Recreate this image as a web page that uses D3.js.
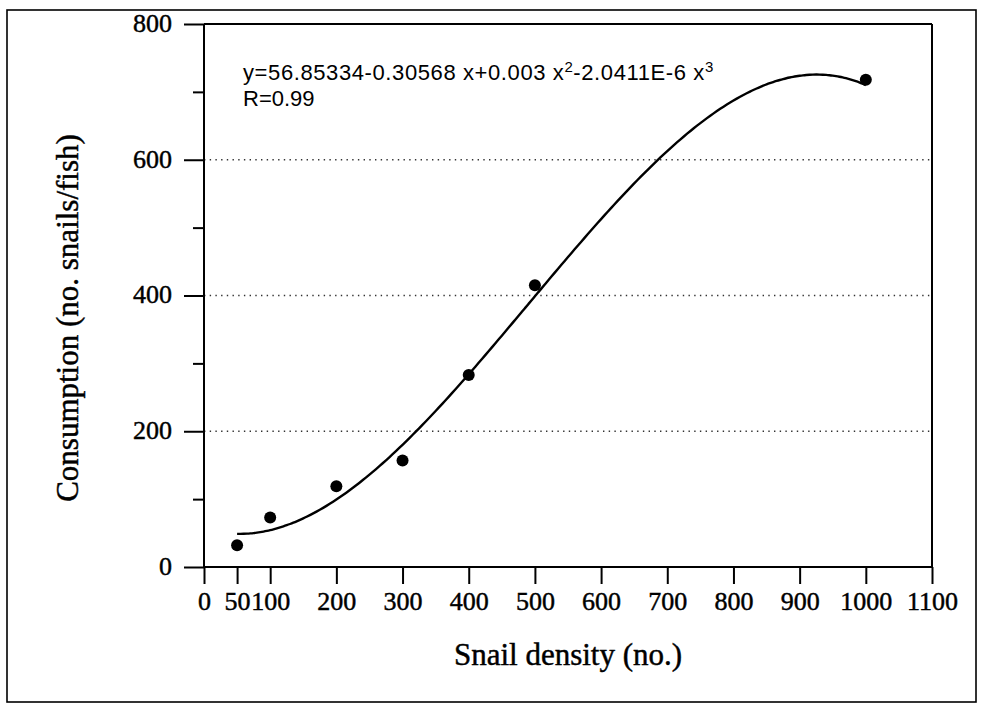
<!DOCTYPE html>
<html>
<head>
<meta charset="utf-8">
<script src="https://cdn.jsdelivr.net/npm/d3@7/dist/d3.min.js"></script>
<style>
  html, body { margin: 0; padding: 0; background: #fff; }
  svg { display: block; }
  .serif { font-family: "Liberation Serif", "Times New Roman", serif; fill: #000; stroke: #000; stroke-width: 0.45px; }
  .sans { font-family: "Liberation Sans", Arial, sans-serif; fill: #000; }
</style>
</head>
<body>
<svg id="chart" width="981" height="704"></svg>
<script>
// ---- data ----
const snailDensity = [50, 100, 200, 300, 400, 500, 1000];
const consumption  = [32, 73, 119, 157, 283, 415, 718];
// fitted cubic printed on the chart: y = a0 + a1 x + a2 x^2 + a3 x^3
const fitCoefficients = [56.85334, -0.30568, 0.003, -2.0411e-6];
const fitRange = [50, 1000];
const xTickValues = [0, 50, 100, 200, 300, 400, 500, 600, 700, 800, 900, 1000, 1100];
const yMajorTicks = [0, 200, 400, 600, 800];
const yMinorTicks = [100, 300, 500, 700];
const gridValues = [200, 400, 600];
const equationText = "y=56.85334-0.30568 x+0.003 x";
const rText = "R=0.99";
const xTitle = "Snail density (no.)";
const yTitle = "Consumption (no. snails/fish)";

// ---- layout ----
const svg = d3.select("#chart");
const x = d3.scaleLinear().domain([0, 1100]).range([204, 932]);
const y = d3.scaleLinear().domain([0, 800]).range([567, 24]);

// outer frame
svg.append("rect").attr("x", 7).attr("y", 10).attr("width", 969).attr("height", 692)
  .attr("fill", "none").attr("stroke", "#000").attr("stroke-width", 1.6);

// dotted gridlines
svg.append("g").selectAll("line").data(gridValues).join("line")
  .attr("x1", x(0)).attr("x2", x(1100))
  .attr("y1", d => y(d)).attr("y2", d => y(d))
  .attr("stroke", "#333").attr("stroke-width", 1.3)
  .attr("stroke-dasharray", "1.4,4.3");

// y axis major
const gyMaj = svg.append("g").attr("transform", `translate(${x(0)},0)`)
  .call(d3.axisLeft(y).tickValues(yMajorTicks).tickSize(20).tickPadding(12).tickSizeOuter(0));
gyMaj.select(".domain").remove();
gyMaj.selectAll("line").attr("stroke", "#000").attr("stroke-width", 2);
gyMaj.selectAll("text").attr("class", "serif").style("font-size", "26px").attr("dy", "0.28em");

// y axis minor
const gyMin = svg.append("g").attr("transform", `translate(${x(0)},0)`)
  .call(d3.axisLeft(y).tickValues(yMinorTicks).tickSize(11).tickFormat(""));
gyMin.select(".domain").remove();
gyMin.selectAll("line").attr("stroke", "#000").attr("stroke-width", 2);

// x axis
const gx = svg.append("g").attr("transform", `translate(0,${y(0)})`)
  .call(d3.axisBottom(x).tickValues(xTickValues).tickFormat(d3.format("d"))
    .tickSize(17).tickPadding(8).tickSizeOuter(0));
gx.select(".domain").remove();
gx.selectAll("line").attr("stroke", "#000").attr("stroke-width", 2);
gx.selectAll("text").attr("class", "serif").style("font-size", "26px");

// frame lines of plot
const frame = svg.append("g").attr("stroke", "#000").attr("stroke-width", 2).attr("fill", "none");
frame.append("line").attr("x1", x(0)).attr("x2", x(0)).attr("y1", y(800)).attr("y2", y(0));
frame.append("line").attr("x1", x(0)).attr("x2", x(1100)).attr("y1", y(0)).attr("y2", y(0));
frame.append("line").attr("x1", x(0)).attr("x2", x(1100)).attr("y1", y(800)).attr("y2", y(800));
frame.append("line").attr("x1", x(1100)).attr("x2", x(1100)).attr("y1", y(800)).attr("y2", y(0));

// fitted curve from the printed coefficients
const poly = v => fitCoefficients.reduce((s, c, i) => s + c * Math.pow(v, i), 0);
const curveX = d3.range(fitRange[0], fitRange[1] + 1, 5);
svg.append("path").datum(curveX)
  .attr("d", d3.line().x(d => x(d)).y(d => y(poly(d))).curve(d3.curveBasis))
  .attr("fill", "none").attr("stroke", "#000").attr("stroke-width", 2.4);

// points
svg.append("g").selectAll("circle").data(snailDensity.map((d, i) => [d, consumption[i]])).join("circle")
  .attr("cx", d => x(d[0])).attr("cy", d => y(d[1])).attr("r", 6).attr("fill", "#000");

// equation
const eq = svg.append("text").attr("class", "sans").attr("x", 243).attr("y", 80)
  .style("font-size", "22px").style("letter-spacing", "0.6px");
eq.append("tspan").text(equationText);
eq.append("tspan").text("2").attr("dy", -8).style("font-size", "15px");
eq.append("tspan").text("-2.0411E-6 x").attr("dy", 8);
eq.append("tspan").text("3").attr("dy", -8).style("font-size", "15px");
svg.append("text").attr("class", "sans").attr("x", 243).attr("y", 106).style("font-size", "22px").text(rText);

// axis titles
svg.append("text").attr("class", "serif").attr("x", 568).attr("y", 665)
  .attr("text-anchor", "middle").style("font-size", "31px").text(xTitle);
svg.append("text").attr("class", "serif")
  .attr("transform", "translate(78,318) rotate(-90)")
  .attr("text-anchor", "middle").style("font-size", "31px").text(yTitle);
</script>
</body>
</html>
